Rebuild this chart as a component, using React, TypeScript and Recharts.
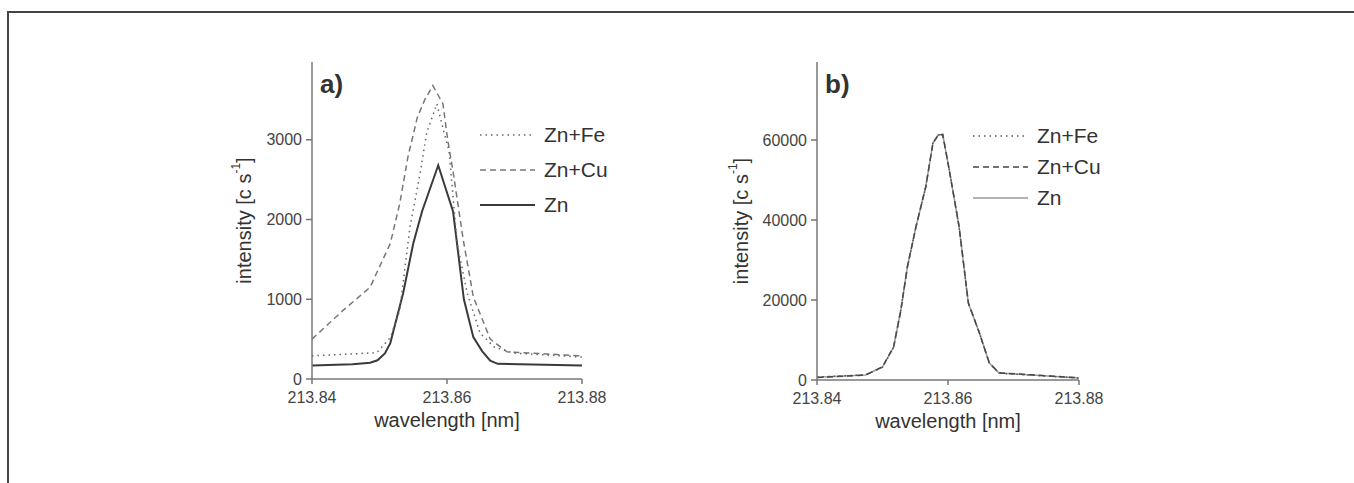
import React from 'react';
import { LineChart, Line, XAxis, YAxis, Label } from 'recharts';

// shared axis values
const WL_TICKS = [213.84, 213.86, 213.88];
const TICKS_A = [0, 1000, 2000, 3000];
const TICKS_B = [0, 20000, 40000, 60000];

// panel a) [wavelength nm, intensity c/s]
const A_ZN: [number, number][] = [
  [213.84, 170], [213.846, 185], [213.8486, 205], [213.8497, 235], [213.8508, 320], [213.8516, 450],
  [213.8535, 1075], [213.855, 1700], [213.8563, 2100], [213.8587, 2680],
  [213.8609, 2100], [213.8625, 1000], [213.8639, 525], [213.8652, 350],
  [213.8664, 230], [213.8675, 190], [213.88, 170],
];
const A_ZN_CU: [number, number][] = [
  [213.84, 500], [213.8446, 860], [213.8486, 1150], [213.8516, 1700], [213.853, 2200],
  [213.8542, 2780], [213.8556, 3280], [213.8567, 3500], [213.8579, 3680],
  [213.8594, 3450], [213.8601, 3000], [213.8609, 2600], [213.8624, 1750],
  [213.8639, 1030], [213.8664, 500], [213.8689, 340], [213.88, 290],
];
const A_ZN_FE: [number, number][] = [
  [213.84, 290], [213.8496, 330], [213.8516, 520], [213.853, 860], [213.8545, 1900],
  [213.856, 2570], [213.857, 3090], [213.8585, 3450], [213.8595, 3110],
  [213.8603, 2860], [213.8615, 1700], [213.863, 1075], [213.8649, 575],
  [213.867, 400], [213.8699, 325], [213.88, 275],
];

// panel b)
const B_ZN: [number, number][] = [
  [213.84, 700], [213.8474, 1250], [213.85, 3250], [213.8517, 8250], [213.8528, 17500],
  [213.8538, 28250], [213.8551, 38250], [213.8566, 48250], [213.8577, 59250],
  [213.8585, 61300], [213.8592, 61300], [213.8602, 52500], [213.8617, 38250],
  [213.8631, 19250], [213.8648, 11750], [213.8663, 4250], [213.8678, 1750], [213.88, 500],
];
const B_ZN_CU: [number, number][] = [
  [213.84, 650], [213.8474, 1200], [213.85, 3300], [213.8517, 8300], [213.8528, 17400],
  [213.8538, 28300], [213.8551, 38200], [213.8566, 48300], [213.8577, 59200],
  [213.8585, 61200], [213.8592, 61400], [213.8602, 52400], [213.8617, 38300],
  [213.8631, 19300], [213.8648, 11700], [213.8663, 4300], [213.8678, 1800], [213.88, 550],
];
const B_ZN_FE: [number, number][] = [
  [213.84, 720], [213.8474, 1280], [213.85, 3200], [213.8517, 8200], [213.8528, 17600],
  [213.8538, 28200], [213.8551, 38300], [213.8566, 48200], [213.8577, 59300],
  [213.8585, 61300], [213.8592, 61200], [213.8602, 52600], [213.8617, 38200],
  [213.8631, 19200], [213.8648, 11800], [213.8663, 4200], [213.8678, 1700], [213.88, 480],
];

const FONT = '"Liberation Sans", Arial, Helvetica, sans-serif';

const toPts = (arr: [number, number][]) => arr.map(([wl, v]) => ({ wl, v }));

type Series = { name: string; data: [number, number][]; color: string; width: number; dash?: string };

const YLabel = ({ viewBox, offset }: any) => {
  const cx = viewBox.x + viewBox.width - offset;
  const cy = viewBox.y + viewBox.height / 2;
  return (
    <text x={cx} y={cy} transform={`rotate(-90 ${cx} ${cy})`} textAnchor="middle" dominantBaseline="central"
      fill="#333" fontSize={20} fontFamily={FONT}>
      intensity [c s<tspan dy={-8} fontSize={12}>-1</tspan><tspan dy={8}>]</tspan>
    </text>
  );
};

const XLabel = ({ viewBox }: any) => (
  <text x={viewBox.x + viewBox.width / 2} y={viewBox.y + 48} textAnchor="middle" fill="#333"
    fontSize={20} fontFamily={FONT}>
    wavelength [nm]
  </text>
);

function Panel(props: {
  left: number; tag: string; series: Series[]; yTicks: number[]; yMax: number;
  yWidth: number; right: number; bottom: number; yLabelOffset: number;
  legendLeft: number; rowH: number; legendTop: number;
}) {
  const { left, tag, series, yTicks, yMax, yWidth, right, bottom, yLabelOffset, legendLeft, rowH, legendTop } = props;
  const legendOrder = [...series].reverse();
  return (
    <div style={{ position: 'absolute', left, top: 40 }}>
      <div style={{ position: 'absolute', left: 120 + (yWidth - 112), top: 31, fontSize: 26, fontWeight: 'bold',
        lineHeight: 1, color: '#333', fontFamily: FONT }}>{tag}</div>
      {/* legend kept outside the chart so it doesn't shrink the plot area */}
      <div style={{ position: 'absolute', left: legendLeft, top: legendTop, fontFamily: FONT }}>
        {legendOrder.map((s) => (
          <div key={s.name} style={{ display: 'flex', alignItems: 'center', height: rowH }}>
            <svg width={56} height={10} style={{ marginRight: 8 }}>
              <line x1={0} y1={5} x2={55} y2={5} stroke={s.color} strokeWidth={s.width} strokeDasharray={s.dash} />
            </svg>
            <span style={{ fontSize: 21, color: '#333' }}>{s.name}</span>
          </div>
        ))}
      </div>
      <LineChart width={450} height={400} margin={{ top: 22, right, bottom, left: 0 }} style={{ fontFamily: FONT }}>
        <XAxis dataKey="wl" type="number" domain={[213.84, 213.88]} ticks={WL_TICKS} allowDataOverflow
          tickFormatter={(v: number) => v.toFixed(2)} stroke="#777" strokeWidth={1.5} tickSize={5} tickMargin={8}
          tick={{ fontSize: 16, fill: '#444' }} height={40}>
          <Label content={<XLabel />} />
        </XAxis>
        <YAxis type="number" domain={[0, yMax]} ticks={yTicks} width={yWidth} stroke="#777" strokeWidth={1.5}
          tickSize={6} tickMargin={4} tick={{ fontSize: 16, fill: '#444' }}>
          <Label content={<YLabel />} offset={yLabelOffset} />
        </YAxis>
        {series.map((s) => (
          <Line key={s.name} name={s.name} data={toPts(s.data)} dataKey="v" type="linear" stroke={s.color}
            strokeWidth={s.width} strokeDasharray={s.dash} dot={false} isAnimationActive={false} />
        ))}
      </LineChart>
    </div>
  );
}

export default function App() {
  const seriesA: Series[] = [
    { name: 'Zn', data: A_ZN, color: '#3a3a3a', width: 2 },
    { name: 'Zn+Cu', data: A_ZN_CU, color: '#777', width: 1.5, dash: '6 4' },
    { name: 'Zn+Fe', data: A_ZN_FE, color: '#666', width: 1.5, dash: '1.5 4' },
  ];
  const seriesB: Series[] = [
    { name: 'Zn', data: B_ZN, color: '#999', width: 1.5 },
    { name: 'Zn+Cu', data: B_ZN_CU, color: '#444', width: 1.5, dash: '6 4' },
    { name: 'Zn+Fe', data: B_ZN_FE, color: '#555', width: 1.5, dash: '1.5 4' },
  ];
  return (
    <div style={{ position: 'fixed', left: 0, top: 0, width: 1354, height: 483, background: '#fff', overflow: 'hidden' }}>
      <div style={{ position: 'absolute', left: 7, top: 11, width: 1347, height: 2, background: '#444' }} />
      <div style={{ position: 'absolute', left: 7, top: 11, width: 2, height: 472, background: '#444' }} />
      <Panel left={200} tag="a)" series={seriesA} yTicks={TICKS_A} yMax={3975} yWidth={112} right={68} bottom={21}
        yLabelOffset={68} legendLeft={280} rowH={35} legendTop={77} />
      <Panel left={700} tag="b)" series={seriesB} yTicks={TICKS_B} yMax={79500} yWidth={117} right={71} bottom={20}
        yLabelOffset={76} legendLeft={273} rowH={31} legendTop={80} />
    </div>
  );
}
